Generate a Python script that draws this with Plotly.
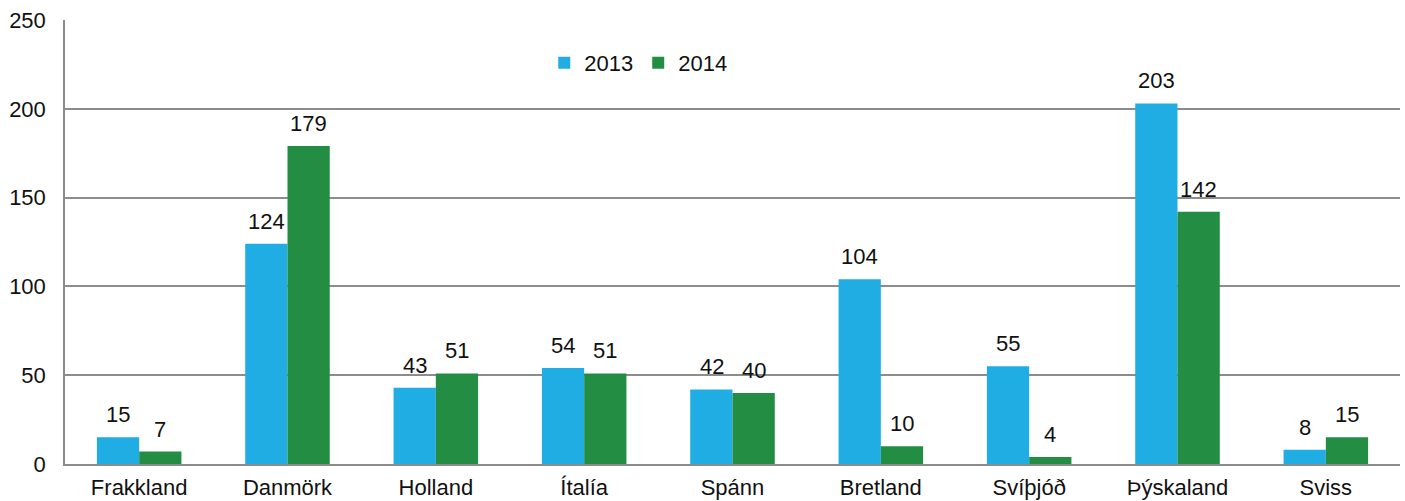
import plotly.graph_objects as go

countries = ["Frakkland", "Danmörk", "Holland", "Ítalía", "Spánn", "Bretland", "Svíþjóð", "Þýskaland", "Sviss"]
values_2013 = [15, 124, 43, 54, 42, 104, 55, 203, 8]
values_2014 = [7, 179, 51, 51, 40, 10, 4, 142, 15]
y_ticks = [0, 50, 100, 150, 200, 250]

font = dict(family="Liberation Sans, Arial, sans-serif", size=22, color="#111111")

fig = go.Figure()
fig.add_trace(go.Bar(x=countries, y=values_2013, name="2013",
                     marker=dict(color="#1FADE4", line=dict(width=0))))
fig.add_trace(go.Bar(x=countries, y=values_2014, name="2014",
                     marker=dict(color="#238E43", line=dict(width=0))))

# value labels above each bar (bar width ~42px, so shift half a bar left/right)
for vals, dx in [(values_2013, -21), (values_2014, 21)]:
    for c, v in zip(countries, vals):
        fig.add_annotation(x=c, y=v, text=str(v), showarrow=False, xshift=dx,
                           yshift=8, yanchor="bottom", font=font)

fig.update_layout(
    width=1405, height=501,
    margin=dict(l=65, r=5, t=20, b=37),
    barmode="group", bargap=0.43, bargroupgap=0,
    plot_bgcolor="white", paper_bgcolor="white",
    font=font,
    showlegend=True,
    legend=dict(orientation="h", x=0.359, y=0.903, xanchor="left", yanchor="middle",
                font=font, bgcolor="rgba(0,0,0,0)", itemwidth=30, tracegroupgap=0),
)
fig.update_xaxes(
    showline=True, linecolor="#8c8c8c", linewidth=1.5, automargin=False,
    showgrid=False, ticks="", tickfont=font, ticklabelstandoff=3,
)
fig.update_yaxes(
    range=[0, 250], tickvals=y_ticks, showline=True, linecolor="#8c8c8c", linewidth=1.5,
    showgrid=True, gridcolor="#8c8c8c", gridwidth=1.5, ticks="", tickfont=font,
    ticklabelstandoff=13, zeroline=False, automargin=False,
)

# drop the default 8px body margin so the figure fills the window
fig.write_html("out.html", config={"displayModeBar": False},
               post_script="document.body.style.margin='0px';")
